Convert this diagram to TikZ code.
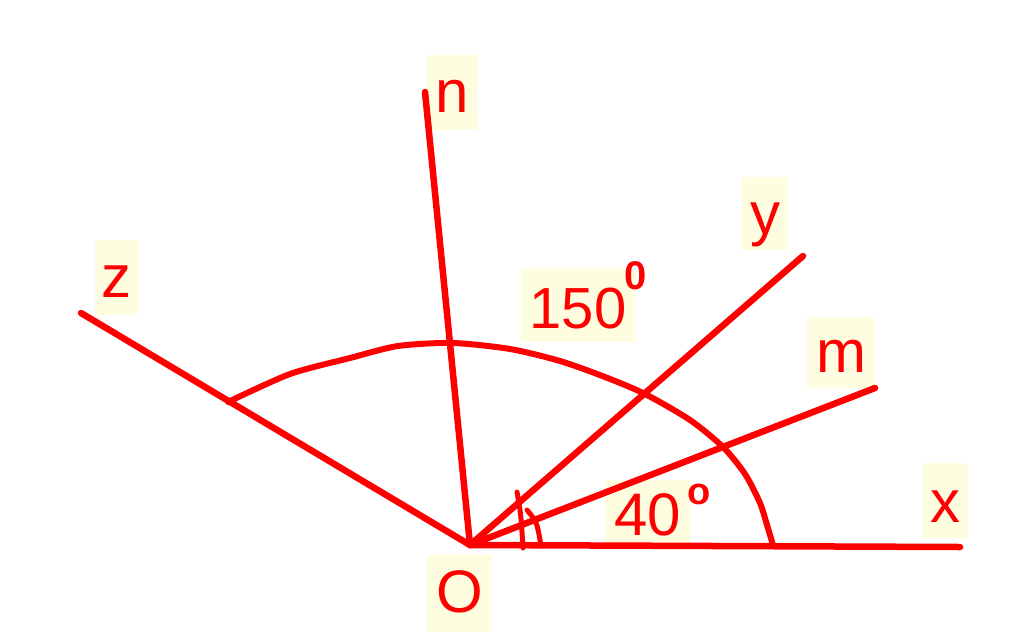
\documentclass[tikz,border=0pt]{standalone}
\usepackage{fontspec}
\setmainfont{Liberation Sans}
\definecolor{lblbg}{HTML}{FFFDE0}
\definecolor{ink}{HTML}{FF0000}
\begin{document}
\begin{tikzpicture}[x=1pt,y=-1pt,
  ray/.style={draw=ink,line width=6.5pt,line cap=round,line join=round},
  lbl/.style={fill=lblbg,text=ink,inner sep=0pt,font=\fontsize{60}{60}\selectfont,text height=57pt,text depth=18pt},
  ring/.style={text=ink,inner sep=0pt}
 ]
\useasboundingbox[fill=white] (0,0) rectangle (1024,637);
% labels
\node[lbl,minimum width=50pt] (ln) at (452,92.5) {n};
\node[lbl,minimum width=43pt] (lz) at (116.5,277.5) {z};
\node[lbl,minimum width=46pt,text depth=16pt] (ly) at (765,213.5) {y};
\node[lbl,minimum width=68pt,text height=55pt,text depth=16pt] (lm) at (841,352.5) {m};
\node[lbl,minimum width=46pt,text height=59pt,text depth=16pt] (lx) at (945,500.5) {x};
\node[lbl,minimum width=65pt,text height=57pt,text depth=20pt] (lO) at (459.5,593.5) {O};
\node[lbl,minimum width=115pt,text height=60pt,text depth=14pt,font=\fontsize{58}{58}\selectfont] (l150) at (578,305) {150};
\node[lbl,minimum width=85pt,text height=55pt,text depth=10pt] (l40) at (647.5,512.5) {40};
\node[ring,font=\fontsize{40}{40}\selectfont\bfseries] (r150) at (636,276) {0};
\node[ring,font=\fontsize{38}{38}\selectfont\bfseries] (r40) at (699,494) {o};
% rays
\coordinate (O) at (470,545);
\coordinate (X) at (960,547);
\coordinate (M) at (875,388);
\coordinate (Y) at (803,256);
\coordinate (N) at (425,92);
\coordinate (Z) at (81,313);
\draw[ray] (O) -- (X);
\draw[ray] (O) -- (M);
\draw[ray] (O) -- (Y);
\draw[ray] (O) -- (N);
\draw[ray] (O) -- (Z);
% big arc
\draw[ray,line width=6pt] plot[smooth,tension=0.45] coordinates {(228,402) (290,374) (350,358) (398,346) (453,343) (510,349) (560,361) (605,377) (645,394) (690,420) (723,447) (745,474) (760,503) (767,525) (773,545)};
% small angle marks
\draw[ray,line width=5pt] (517,492) .. controls (521,515) .. (523,548);
\draw[ray,line width=5pt] (527,510) .. controls (537,522) .. (541,546);
\end{tikzpicture}
\end{document}
